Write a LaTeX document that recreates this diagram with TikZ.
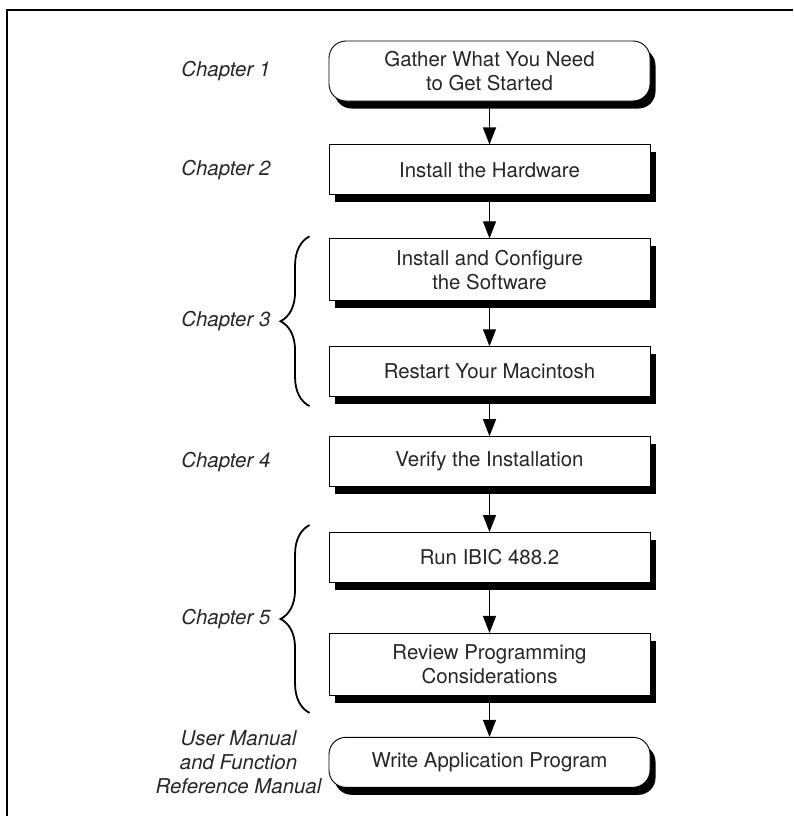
\documentclass[tikz,border=0pt]{standalone}
\usepackage{fontspec}
\setmainfont{TeX Gyre Heros}
\usetikzlibrary{positioning, shadows, arrows.meta, decorations.pathreplacing}

\begin{document}
\begin{tikzpicture}[
        x=1pt, y=-1pt,
        font=\fontsize{20.4}{23.6}\selectfont,
        stepbox/.style={draw, line width=0.9pt, fill=white, text=black!85, align=center,
          minimum width=321pt, minimum height=50pt, inner sep=2pt,
          drop shadow={shadow xshift=5.5pt, shadow yshift=-7.5pt, fill=black, opacity=1}},
        tallbox/.style={stepbox, minimum height=62pt},
        endbox/.style={stepbox, rounded corners=17pt},
        chap/.style={font=\fontsize{20.4}{23.6}\selectfont\itshape, text=black!85, inner sep=0pt, align=center},
        arr/.style={-{Triangle[length=17pt,width=13pt]}, line width=1.1pt},
        chbrace/.style={decorate, decoration={brace, amplitude=29pt}, line width=1.8pt},
        node distance=43pt
      ]
      \useasboundingbox (0,0) rectangle (793,816);
      \draw[line width=2.2pt] (7,816) -- (7,10) -- (793,10);
      \node[endbox, minimum height=60pt] (gather) at (489.5,71) {Gather What You Need\\to Get Started};
      \node[stepbox, below=of gather] (hw) {Install the Hardware};
      \node[tallbox, below=of hw] (cfg) {Install and Configure\\the Software};
      \node[stepbox, below=45pt of cfg] (mac) {Restart Your Macintosh};
      \node[stepbox, below=39pt of mac] (ver) {Verify the Installation};
      \node[stepbox, below=45pt of ver] (run) {Run IBIC 488.2};
      \node[tallbox, below=50pt of run] (rev) {Review Programming\\Considerations};
      \node[endbox, below=41pt of rev] (app) {Write Application Program};
      \foreach\a/\b in {gather/hw, hw/cfg, cfg/mac, mac/ver, ver/run, run/rev, rev/app}{\draw[arr] (\a) -- (\b);}
      % chapter labels and braces
      \node[chap, left=58pt of gather] {Chapter 1};
      \node[chap, left=58pt of hw] {Chapter 2};
      \draw[chbrace] ([xshift=-19pt, yshift=-9pt]mac.south west) -- ([xshift=-19pt, yshift=2pt]cfg.north west) coordinate[midway] (m3);
      \node[chap, left=39pt of m3] {Chapter 3};
      \node[chap, left=58pt of ver] {Chapter 4};
      \draw[chbrace] ([xshift=-19pt, yshift=-17pt]rev.south west) -- ([xshift=-19pt, yshift=7pt]run.north west) coordinate[midway] (m5);
      \node[chap, left=39pt of m5] {Chapter 5};
      \node[chap, left=7pt of app] {User Manual\\and Function\\Reference Manual};
    \end{tikzpicture}
\end{document}
